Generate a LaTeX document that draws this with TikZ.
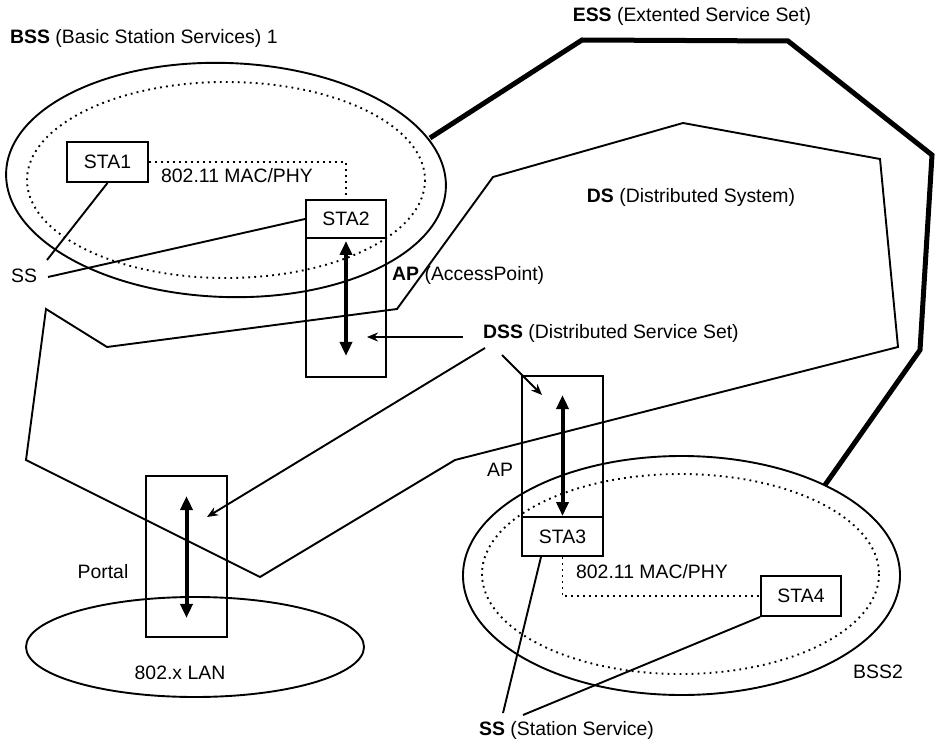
\documentclass[tikz,border=0pt]{standalone}
\usepackage{fontspec}
\setmainfont{Liberation Sans}
\usetikzlibrary{arrows.meta}
\begin{document}
\begin{tikzpicture}[x=1pt,y=-1pt,
  every node/.style={font=\fontsize{19.4}{22}\selectfont, inner sep=0pt},
  box/.style={draw, line width=1.9pt, rectangle, inner sep=0pt},
  thinline/.style={line width=1.9pt},
  essline/.style={line width=5pt, line join=miter},
  dotline/.style={line width=1.9pt, dash pattern=on 1.8pt off 4.2pt},
  dbl/.style={line width=4pt, {Triangle[length=14pt,width=12pt]}-{Triangle[length=14pt,width=12pt]}},
  dssarrow/.style={line width=1.9pt, -{Stealth[length=11pt,width=9pt]}},
]
\useasboundingbox (0,0) rectangle (936,743);

% ellipses
\draw[thinline, rotate around={-2:(226,180)}] (226,180) ellipse [x radius=220, y radius=117];
\draw[dotline] (226,180) ellipse [x radius=199, y radius=98];
\draw[thinline] (681.5,575.5) ellipse [x radius=218.5, y radius=119.5];
\draw[dotline] (680.5,574) ellipse [x radius=198.5, y radius=100];
\draw[thinline] (195,647) ellipse [x radius=169, y radius=50];

% ESS outline
\draw[essline] (430,138) -- (582,40) -- (788,41) -- (932,155) -- (920,350) -- (825,485);

% DS outline
\draw[thinline, line join=miter] (493,177) -- (683,123) -- (880,159) -- (898,347) -- (455,460) -- (260,577) -- (26,460) -- (46,309) -- (107,347) -- (397,309) -- cycle;

% boxes
\node[box, minimum width=81, minimum height=40] (sta1) at (107.5,162) {STA1};
\node[box, minimum width=80, minimum height=38] (sta2) at (346,219) {STA2};
\node[box, minimum width=80, minimum height=139] (ap1) at (346,307.5) {};
\node[box, minimum width=81, minimum height=141] (ap2) at (562.5,446.5) {};
\node[box, minimum width=81, minimum height=39] (sta3) at (562.5,536.5) {STA3};
\node[box, minimum width=80, minimum height=40] (sta4) at (801,596) {STA4};
\node[box, minimum width=81, minimum height=161] (portal) at (186.5,556.5) {};

% labels
\node[anchor=west] (bsstitle) at (10,38) {\textbf{BSS} (Basic Station Services) 1};
\node (esstitle) at (692,16) {\textbf{ESS} (Extented Service Set)};
\node (dstitle) at (691,197) {\textbf{DS} (Distributed System)};
\node[anchor=west] (aplabel) at (392,275) {\textbf{AP} (AccessPoint)};
\node[anchor=west] (dss) at (483,333) {\textbf{DSS} (Distributed Service Set)};
\node (ap2label) at (500,470) {AP};
\node (portallabel) at (103,572) {Portal};
\node (lanlabel) at (180,673) {802.x LAN};
\node (mac1) at (237,176) {802.11 MAC/PHY};
\node (mac2) at (652,572) {802.11 MAC/PHY};
\node (bss2label) at (878,672) {BSS2};
\node[anchor=west] (sslabel) at (479,730) {\textbf{SS} (Station Service)};
\node (ss1) at (24,276) {SS};

% dotted MAC/PHY links
\draw[dotline] (sta1.east) -| (sta2.north);
\draw[dotline] (sta3.south) |- (sta4.west);

% SS lines
\coordinate (ss1a) at (47,260);
\coordinate (ss1b) at (48,277);
\draw[thinline] (sta1.south) -- (ss1a);
\draw[thinline] (ss1b) -- (sta2.west);
\coordinate (ss2a) at (503,713);
\coordinate (ss2b) at (523,715);
\draw[thinline] ([xshift=-21.5pt]sta3.south) -- (ss2a);
\draw[thinline] (sta4.south west) -- (ss2b);

% double arrows
\draw[dbl] ([yshift=-2pt]sta2.south) -- ([yshift=22pt]ap1.south);
\draw[dbl] ([yshift=-20pt]ap2.north) -- (sta3.north);
\draw[dbl] ([yshift=-21pt]portal.north) -- ([yshift=20pt]portal.south);

% DSS arrows
\coordinate (d1s) at (463,337); \coordinate (d1e) at (367,337);
\coordinate (d2s) at (485,348); \coordinate (d2e) at (207,517);
\coordinate (d3s) at (502,355); \coordinate (d3e) at (542,395);
\draw[dssarrow] (d1s) -- (d1e);
\draw[dssarrow] (d2s) -- (d2e);
\draw[dssarrow] (d3s) -- (d3e);
\end{tikzpicture}
\end{document}
